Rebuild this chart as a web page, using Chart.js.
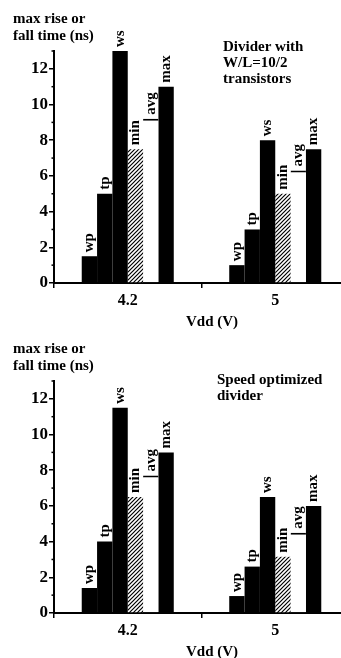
<!DOCTYPE html>
<html>
<head>
<meta charset="utf-8">
<script src="https://cdn.jsdelivr.net/npm/chart.js@4.4.1/dist/chart.umd.min.js"></script>
<style>
  html, body { margin: 0; padding: 0; background: #fff; overflow: hidden; }
  .panel { position: relative; width: 341px; height: 330px; overflow: hidden; }
  .panel canvas { position: absolute; left: 0; top: 0; }
</style>
</head>
<body>
<div class="panel"><canvas id="chartTop" width="352" height="330"></canvas></div>
<div class="panel" style="height:328px"><canvas id="chartBottom" width="352" height="330"></canvas></div>
<script>
// Data
const voltages = ["4.2", "5"];
const barNames = ["wp", "tp", "ws", "min", "avg", "max"];
const yTicks = [0, 2, 4, 6, 8, 10, 12];

// Divider with W/L=10/2 transistors
const dividerWp  = [1.5, 1.0];
const dividerTp  = [5.0, 3.0];
const dividerWs  = [13.0, 8.0];
const dividerMin = [7.5, 5.0];
const dividerAvg = [9.2, 6.3];
const dividerMax = [11.0, 7.5];

// Speed optimized divider
const speedWp  = [1.4, 0.95];
const speedTp  = [4.0, 2.6];
const speedWs  = [11.5, 6.5];
const speedMin = [6.5, 3.15];
const speedAvg = [7.7, 4.5];
const speedMax = [9.0, 6.0];

const FONT = "'Liberation Serif', 'DejaVu Serif', serif";

// diagonal hatching for the "min" bars
function hatchPattern() {
  const c = document.createElement("canvas");
  c.width = 4; c.height = 4;
  const g = c.getContext("2d");
  g.fillStyle = "#fff";
  g.fillRect(0, 0, 4, 4);
  g.strokeStyle = "#000";
  g.lineWidth = 1.2;
  g.beginPath();
  g.moveTo(-1, 5); g.lineTo(5, -1);
  g.moveTo(-1, 1); g.lineTo(1, -1);
  g.moveTo(3, 5); g.lineTo(5, 3);
  g.stroke();
  return g.createPattern(c, "repeat");
}

// rotated labels above each bar, minor ticks, free text
const annotations = {
  id: "annotations",
  afterDatasetsDraw(chart, args, opts) {
    const ctx = chart.ctx;
    ctx.save();
    ctx.fillStyle = "#000";

    // bar labels
    ctx.font = "bold 15px " + FONT;
    ctx.textAlign = "left";
    ctx.textBaseline = "middle";
    chart.data.datasets.forEach((ds, i) => {
      chart.getDatasetMeta(i).data.forEach(bar => {
        ctx.save();
        ctx.translate(bar.x, bar.y - 4);
        ctx.rotate(-Math.PI / 2);
        ctx.fillText(ds.label, 0, 0);
        ctx.restore();
      });
    });

    // minor ticks on the y axis
    const y = chart.scales.y;
    const left = chart.chartArea.left;
    ctx.strokeStyle = "#000";
    ctx.lineWidth = 1.5;
    for (let v = 1; v <= 13; v += 2) {
      const py = y.getPixelForValue(v);
      ctx.beginPath();
      ctx.moveTo(left - 2.5, py);
      ctx.lineTo(left, py);
      ctx.stroke();
    }

    // axis title, top-left
    ctx.font = "bold 15px " + FONT;
    ctx.textBaseline = "top";
    ctx.fillText("max rise or", 13, 12);
    ctx.fillText("fall time (ns)", 13, 29);

    // note
    opts.note.forEach((line, k) => ctx.fillText(line, opts.noteX, opts.noteY + k * 16));

    // x axis title
    ctx.textAlign = "center";
    ctx.fillText("Vdd (V)", 212, 315);
    ctx.restore();
  }
};

function makeChart(id, wp, tp, ws, mn, avg, mx, note, noteX, noteY) {
  const series = [wp, tp, ws, mn, avg, mx];
  const datasets = series.map((vals, i) => {
    const ds = { label: barNames[i], data: vals, backgroundColor: "#000", borderWidth: 0 };
    if (barNames[i] === "min") ds.backgroundColor = hatchPattern();
    if (barNames[i] === "avg") {
      ds.backgroundColor = "#fff";
      ds.borderColor = "#000";
      ds.borderWidth = { top: 2, left: 0, right: 0, bottom: 0 };
      ds.borderSkipped = false;
    }
    return ds;
  });

  return new Chart(document.getElementById(id), {
    type: "bar",
    data: { labels: voltages, datasets: datasets },
    plugins: [annotations],
    options: {
      responsive: false,
      animation: false,
      layout: { padding: { top: 51, right: 3, left: 0, bottom: 0 } },
      datasets: { bar: { barPercentage: 1.0, categoryPercentage: 0.624 } },
      plugins: {
        legend: { display: false },
        tooltip: { enabled: false },
        annotations: { note: note, noteX: noteX, noteY: noteY }
      },
      scales: {
        x: {
          afterFit: s => { s.height = 47; },
          border: { display: true, color: "#000", width: 2 },
          grid: { display: true, drawOnChartArea: false, offset: true, tickLength: 5, color: "#000", lineWidth: 1.5 },
          ticks: { color: "#000", padding: 3, font: { family: FONT, size: 16, weight: "bold" } }
        },
        y: {
          min: 0,
          max: 13,
          afterFit: s => { s.width = 54; },
          afterBuildTicks: s => { s.ticks = yTicks.map(v => ({ value: v })); },
          border: { display: true, color: "#000", width: 2 },
          grid: { display: true, drawOnChartArea: false, tickLength: 5, color: "#000", lineWidth: 1.5 },
          ticks: { color: "#000", padding: 1, font: { family: FONT, size: 17, weight: "bold" } }
        }
      }
    }
  });
}

makeChart("chartTop", dividerWp, dividerTp, dividerWs, dividerMin, dividerAvg, dividerMax,
  ["Divider with", "W/L=10/2", "transistors"], 223, 40);
makeChart("chartBottom", speedWp, speedTp, speedWs, speedMin, speedAvg, speedMax,
  ["Speed optimized", "divider"], 217, 43);
</script>
</body>
</html>
